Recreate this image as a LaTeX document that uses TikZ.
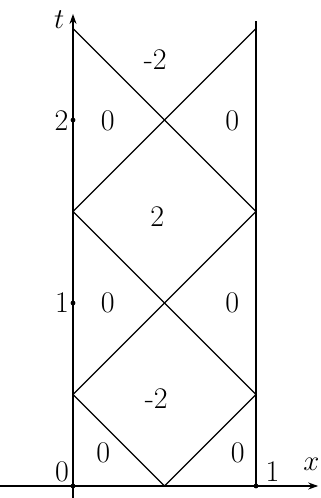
\documentclass[tikz,border=0pt]{standalone}
\usetikzlibrary{arrows.meta}
\begin{document}
\begin{tikzpicture}[x=91.5pt,y=91.5pt,
  ln/.style={line width=0.6pt},
  ax/.style={line width=0.7pt,-{Stealth[length=5pt,width=3.5pt]}},
  dot/.style={circle,fill,inner sep=0pt,minimum size=2.4pt},
  lab/.style={inner sep=0pt,font=\fontsize{15}{18}\selectfont}]
\useasboundingbox (-0.399,-0.0656) rectangle (1.355,2.656);
% axes
\coordinate (xs) at (-0.399,0);
\coordinate (xe) at (1.34,0);
\coordinate (ts) at (0,-0.0656);
\coordinate (te) at (0,2.58);
\draw[ax] (xs) -- (xe);
\draw[ax] (ts) -- (te);
% key points
\coordinate (O) at (0,0);
\coordinate (A) at (0.5,0);
\coordinate (B) at (1,0);
\coordinate (L1) at (0,0.5);
\coordinate (R1) at (1,0.5);
\coordinate (L2) at (0,1.5);
\coordinate (R2) at (1,1.5);
\coordinate (L3) at (0,2.5);
\coordinate (R3) at (1,2.5);
\coordinate (Rt) at (1,2.54);
\draw[ln] (B) -- (Rt);
\draw[ln] (L1) -- (A) -- (R1) -- (L2) -- (R3);
\draw[ln] (L1) -- (R2) -- (L3);
% dots
\node[dot] (d0) at (O) {};
\node[dot] (d1) at (B) {};
\node[dot] (dt1) at (0,1) {};
\node[dot] (dt2) at (0,2) {};
% axis labels
\node[lab] (tl) at (-0.075,2.55) {$t$};
\node[lab] (xl) at (1.303,0.12) {$x$};
\node[lab] (o0) at (-0.06,0.08) {0};
\node[lab] (x1) at (1.09,0.08) {1};
\node[lab] (t1) at (-0.06,1.0) {1};
\node[lab] (t2) at (-0.063,1.995) {2};
% region labels
\node[lab] (r1) at (0.45,2.33) {-2};
\node[lab] (r2) at (0.19,1.995) {0};
\node[lab] (r3) at (0.87,1.995) {0};
\node[lab] (r4) at (0.46,1.47) {2};
\node[lab] (r5) at (0.19,1.0) {0};
\node[lab] (r6) at (0.87,1.0) {0};
\node[lab] (r7) at (0.455,0.48) {-2};
\node[lab] (r8) at (0.165,0.18) {0};
\node[lab] (r9) at (0.9,0.18) {0};
\end{tikzpicture}
\end{document}
